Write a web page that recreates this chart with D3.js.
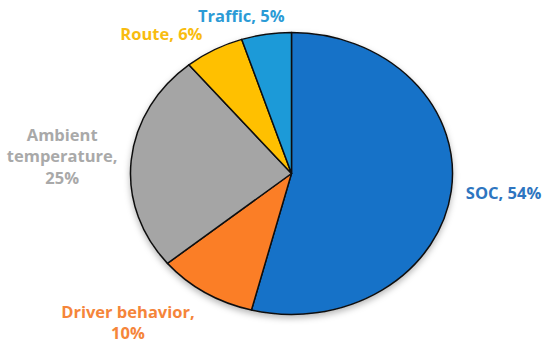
<!DOCTYPE html>
<html>
<head>
<meta charset="utf-8">
<script src="https://cdn.jsdelivr.net/npm/d3@7"></script>
<style>
  html, body { margin: 0; padding: 0; background: #fff; }
  svg { display: block; }
</style>
</head>
<body>
<div id="chart"></div>
<script>
// data, clockwise from 12 o'clock
const categories = ["SOC", "Driver behavior", "Ambient temperature", "Route", "Traffic"];
const shares = [54, 10, 25, 6, 5];

const sliceColors = ["#1872c8", "#fb7e28", "#a5a5a5", "#ffc000", "#1c9ad8"];
const textColors = ["#2e75c0", "#f5853a", "#a9a9a9", "#f8bc10", "#2b9bd6"];

const width = 550, height = 347;
const cx = 291.5, cy = 173.5;
const rx = 161, ry = 141;   // the pie is drawn stretched into an ellipse
const wrapWidth = 140;
const lineH = 21.5;

// small hand nudges so the labels sit where the original ones do
const nudge = {
    "SOC": [1, 0],
    "Driver behavior": [-34, 1],
    "Ambient temperature": [0, 1.5],
    "Route": [-26, 7],
    "Traffic": [-16, 7]
};

const data = categories.map((c, i) => ({ name: c, value: shares[i], fill: sliceColors[i], text: textColors[i] }));

const svg = d3.select("#chart")
    .append("svg")
    .attr("width", width)
    .attr("height", height);

const defs = svg.append("defs");
defs.append("filter")
    .attr("id", "shadow")
    .attr("x", "-10%").attr("y", "-10%").attr("width", "120%").attr("height", "125%")
    .append("feDropShadow")
    .attr("dx", 0).attr("dy", 3)
    .attr("stdDeviation", 3)
    .attr("flood-color", "#000")
    .attr("flood-opacity", 0.28);

const pie = d3.pie().sort(null).value(d => d.value);
const arc = d3.arc().innerRadius(0).outerRadius(ry);
const arcs = pie(data);

svg.append("g")
    .attr("transform", `translate(${cx},${cy}) scale(${rx / ry},1)`)
    .attr("filter", "url(#shadow)")
    .selectAll("path")
    .data(arcs)
    .enter()
    .append("path")
    .attr("d", arc)
    .attr("fill", d => d.data.fill)
    .attr("stroke", "#111")
    .attr("stroke-width", 1.5)
    .attr("stroke-linejoin", "round")
    .attr("vector-effect", "non-scaling-stroke");

// labels
const labels = svg.append("g")
    .attr("font-family", "'Open Sans', sans-serif")
    .attr("font-weight", "bold")
    .attr("font-size", "16.5px");

arcs.forEach(d => {
    const t = labels.append("text")
        .attr("fill", d.data.text)
        .attr("text-anchor", "middle");

    // simple word wrap like the spreadsheet does
    const words = `${d.data.name}, ${d.data.value}%`.split(" ");
    const lines = [];
    let cur = "";
    const probe = t.append("tspan");
    words.forEach(w => {
        const test = cur ? cur + " " + w : w;
        probe.text(test);
        if (cur && probe.node().getComputedTextLength() > wrapWidth) {
            lines.push(cur);
            cur = w;
        } else {
            cur = test;
        }
    });
    lines.push(cur);
    probe.remove();

    let maxW = 0;
    lines.forEach((ln, i) => {
        const s = t.append("tspan").attr("x", 0).attr("dy", i === 0 ? 0 : lineH).text(ln);
        maxW = Math.max(maxW, s.node().getComputedTextLength());
    });
    const boxH = lines.length * lineH;

    const a = (d.startAngle + d.endAngle) / 2;
    const sx = Math.sin(a), sy = -Math.cos(a);
    const gap = 14;
    const px = cx + sx * (rx + gap) + sx * maxW / 2;
    const py = cy + sy * (ry + gap) + sy * boxH / 2;
    const n = nudge[d.data.name];
    // text baseline of the first line, box centred on (px, py)
    const firstBase = py - boxH / 2 + lineH * 0.72;
    t.attr("transform", `translate(${px + n[0]},${firstBase + n[1]})`);
});
</script>
</body>
</html>
